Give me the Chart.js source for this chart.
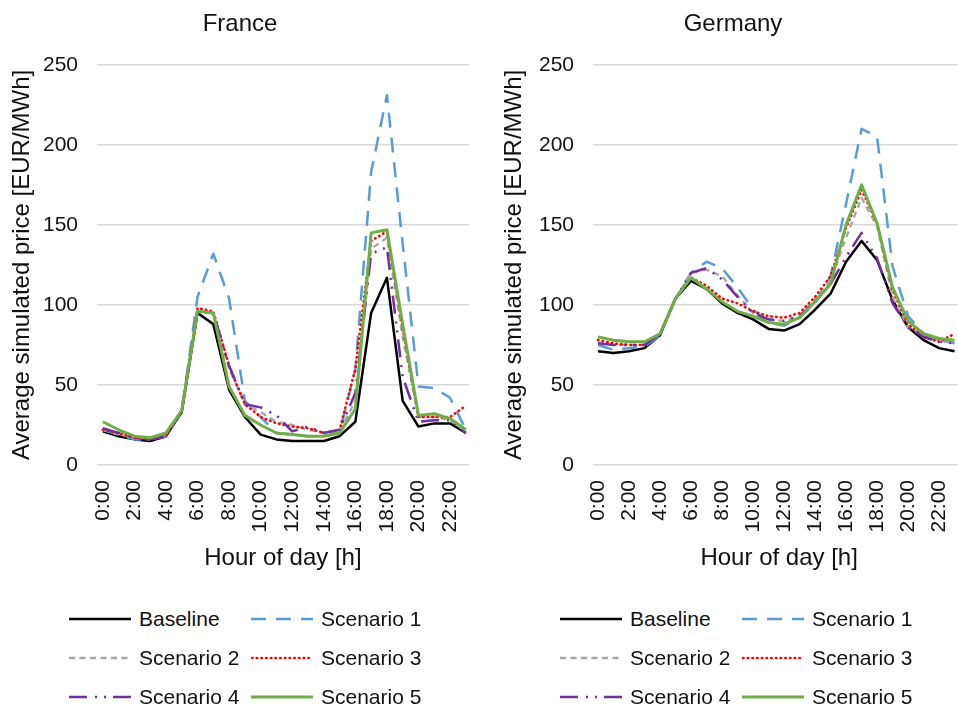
<!DOCTYPE html>
<html>
<head>
<meta charset="utf-8">
<script src="https://cdn.jsdelivr.net/npm/chart.js@4.4.1/dist/chart.umd.min.js"></script>
<style>
  body {
    margin: 0;
    width: 958px;
    height: 706px;
    overflow: hidden;
    position: relative;
    background: #ffffff;
    font-family: "Liberation Sans", Arial, sans-serif;
  }
  canvas.grafico {
    position: absolute;
    top: 0;
  }
  .leyenda {
    position: absolute;
    top: 599px;
    display: grid;
    grid-template-columns: 182px auto;
  }
  .item {
    display: flex;
    align-items: center;
    height: 39px;
    font-size: 21px;
    color: #111111;
    white-space: nowrap;
  }
  .item canvas {
    margin-right: 8px;
  }
</style>
</head>
<body>
<canvas id="chartFrance" class="grafico" width="491" height="590" style="left:0px"></canvas>
<canvas id="chartGermany" class="grafico" width="500" height="590" style="left:480px"></canvas>
<div id="leyendaFrance" class="leyenda" style="left:69px"></div>
<div id="leyendaGermany" class="leyenda" style="left:560px"></div>

<script>
const hours = [0, 1, 2, 3, 4, 5, 6, 7, 8, 9, 10, 11, 12, 13, 14, 15, 16, 17, 18, 19, 20, 21, 22, 23];
const hourLabels = ["0:00", "1:00", "2:00", "3:00", "4:00", "5:00", "6:00", "7:00", "8:00", "9:00", "10:00", "11:00",
  "12:00", "13:00", "14:00", "15:00", "16:00", "17:00", "18:00", "19:00", "20:00", "21:00", "22:00", "23:00"];
const seriesNames = ["Baseline", "Scenario 1", "Scenario 2", "Scenario 3", "Scenario 4", "Scenario 5"];
const priceTicks = [0, 50, 100, 150, 200, 250];

// France
const franceBaseline = [21, 18, 16, 15, 18, 33, 95, 88, 47, 30, 19, 16, 15, 15, 15, 18, 27, 95, 117, 40, 24, 26, 26, 20];
const franceScenario1 = [22, 19, 16, 16, 18, 34, 105, 132, 104, 40, 30, 20, 19, 18, 18, 20, 60, 183, 231, 138, 49, 48, 42, 22];
const franceScenario2 = [22, 19, 17, 16, 19, 34, 97, 94, 60, 38, 33, 27, 25, 22, 20, 21, 40, 135, 142, 80, 30, 30, 28, 21];
const franceScenario3 = [22, 20, 17, 16, 18, 34, 98, 96, 62, 38, 30, 26, 24, 23, 20, 22, 60, 140, 146, 85, 30, 30, 30, 37];
const franceScenario4 = [23, 20, 17, 16, 18, 34, 96, 95, 62, 38, 36, 31, 21, 24, 20, 22, 45, 132, 136, 55, 27, 28, 28, 20];
const franceScenario5 = [27, 22, 18, 17, 20, 34, 96, 95, 49, 31, 25, 20, 19, 18, 18, 20, 35, 145, 147, 88, 31, 32, 29, 22];

// Germany
const germanyBaseline = [71, 70, 71, 73, 81, 104, 115, 110, 101, 95, 91, 85, 84, 88, 97, 107, 127, 140, 128, 103, 86, 78, 73, 71];
const germanyScenario1 = [75, 72, 73, 74, 81, 104, 120, 127, 123, 111, 97, 89, 87, 92, 101, 118, 163, 210, 205, 124, 93, 82, 78, 76];
const germanyScenario2 = [76, 75, 75, 75, 82, 104, 120, 122, 118, 106, 95, 91, 90, 93, 104, 115, 142, 167, 149, 105, 86, 81, 78, 76];
const germanyScenario3 = [78, 76, 75, 75, 82, 104, 117, 112, 104, 101, 96, 93, 92, 95, 105, 118, 148, 172, 151, 109, 88, 80, 77, 82];
const germanyScenario4 = [76, 75, 75, 75, 82, 104, 120, 123, 116, 105, 95, 91, 90, 93, 102, 113, 130, 145, 129, 101, 86, 80, 77, 76];
const germanyScenario5 = [80, 78, 77, 77, 82, 104, 117, 110, 102, 96, 93, 89, 88, 92, 102, 113, 150, 175, 151, 111, 90, 82, 79, 78];

const estilos = [
  { color: "#000000", dash: [], width: 2.5, cap: "butt" },
  { color: "#5b9bd5", dash: [15, 10], width: 2.5, cap: "butt" },
  { color: "#a5a5a5", dash: [6, 4.5], width: 2.3, cap: "butt" },
  { color: "#ff0000", dash: [0.5, 4.2], width: 2.6, cap: "round" },
  { color: "#7030a0", dash: [18, 8, 2, 7, 2, 7], width: 2.5, cap: "butt" },
  { color: "#70ad47", dash: [], width: 3, cap: "butt" }
];

const fuente = "'Liberation Sans', Arial, sans-serif";
Chart.defaults.font.family = fuente;
Chart.defaults.color = "#111111";

function crearGrafico(id, titulo, series, cfg) {
  const datasets = series.map((valores, i) => ({
    label: seriesNames[i],
    data: valores,
    borderColor: estilos[i].color,
    borderDash: estilos[i].dash,
    borderWidth: estilos[i].width,
    borderCapStyle: estilos[i].cap,
    borderJoinStyle: "round",
    pointRadius: 0,
    tension: 0,
    fill: false,
    order: series.length - i
  }));

  return new Chart(document.getElementById(id), {
    type: "line",
    data: { labels: hours, datasets },
    options: {
      responsive: false,
      animation: false,
      layout: { padding: { left: cfg.padLeft, right: cfg.padRight, top: 0, bottom: 0 } },
      plugins: {
        legend: { display: false },
        tooltip: { enabled: false },
        title: {
          display: true,
          text: titulo,
          color: "#111111",
          font: { size: 24, weight: "normal" },
          padding: { top: 10, bottom: 26 }
        }
      },
      scales: {
        x: {
          type: "linear",
          min: cfg.xMin,
          max: cfg.xMax,
          grid: { display: false, drawTicks: false },
          border: { display: false },
          ticks: {
            stepSize: 2,
            includeBounds: false,
            autoSkip: false,
            minRotation: 90,
            maxRotation: 90,
            padding: 15,
            font: { size: 21 },
            callback: (v) => hourLabels[v]
          },
          title: {
            display: true,
            text: "Hour of day [h]",
            font: { size: 24 },
            padding: { top: 4, bottom: 17 }
          },
          afterFit: (scale) => { scale.height = 125; }
        },
        y: {
          min: 0,
          max: 250,
          afterBuildTicks: (scale) => { scale.ticks = priceTicks.map((v) => ({ value: v })); },
          grid: { color: "#d9d9d9", lineWidth: 1.5, drawTicks: false },
          border: { display: false },
          ticks: { padding: 19, font: { size: 21 } },
          title: {
            display: true,
            text: "Average simulated price [EUR/MWh]",
            font: { size: 24 },
            padding: { top: 4, bottom: 4 }
          },
          afterFit: (scale) => { scale.width = cfg.yWidth; }
        }
      }
    }
  });
}

function crearLeyenda(id) {
  const cont = document.getElementById(id);
  seriesNames.forEach((nombre, i) => {
    const item = document.createElement("div");
    item.className = "item";
    const muestra = document.createElement("canvas");
    muestra.width = 62;
    muestra.height = 12;
    const ctx = muestra.getContext("2d");
    ctx.strokeStyle = estilos[i].color;
    ctx.lineWidth = estilos[i].width;
    ctx.lineCap = estilos[i].cap;
    ctx.setLineDash(estilos[i].dash);
    ctx.beginPath();
    ctx.moveTo(estilos[i].cap === "round" ? 1 : 0, 6);
    ctx.lineTo(62, 6);
    ctx.stroke();
    const texto = document.createElement("span");
    texto.textContent = nombre;
    item.appendChild(muestra);
    item.appendChild(texto);
    cont.appendChild(item);
  });
}

crearGrafico("chartFrance", "France",
  [franceBaseline, franceScenario1, franceScenario2, franceScenario3, franceScenario4, franceScenario5],
  { padLeft: 4, padRight: 15, yWidth: 93, xMin: -0.37, xMax: 23.19 });

crearGrafico("chartGermany", "Germany",
  [germanyBaseline, germanyScenario1, germanyScenario2, germanyScenario3, germanyScenario4, germanyScenario5],
  { padLeft: 16, padRight: 10, yWidth: 97, xMin: -0.32, xMax: 23.69 });

crearLeyenda("leyendaFrance");
crearLeyenda("leyendaGermany");
</script>
</body>
</html>
